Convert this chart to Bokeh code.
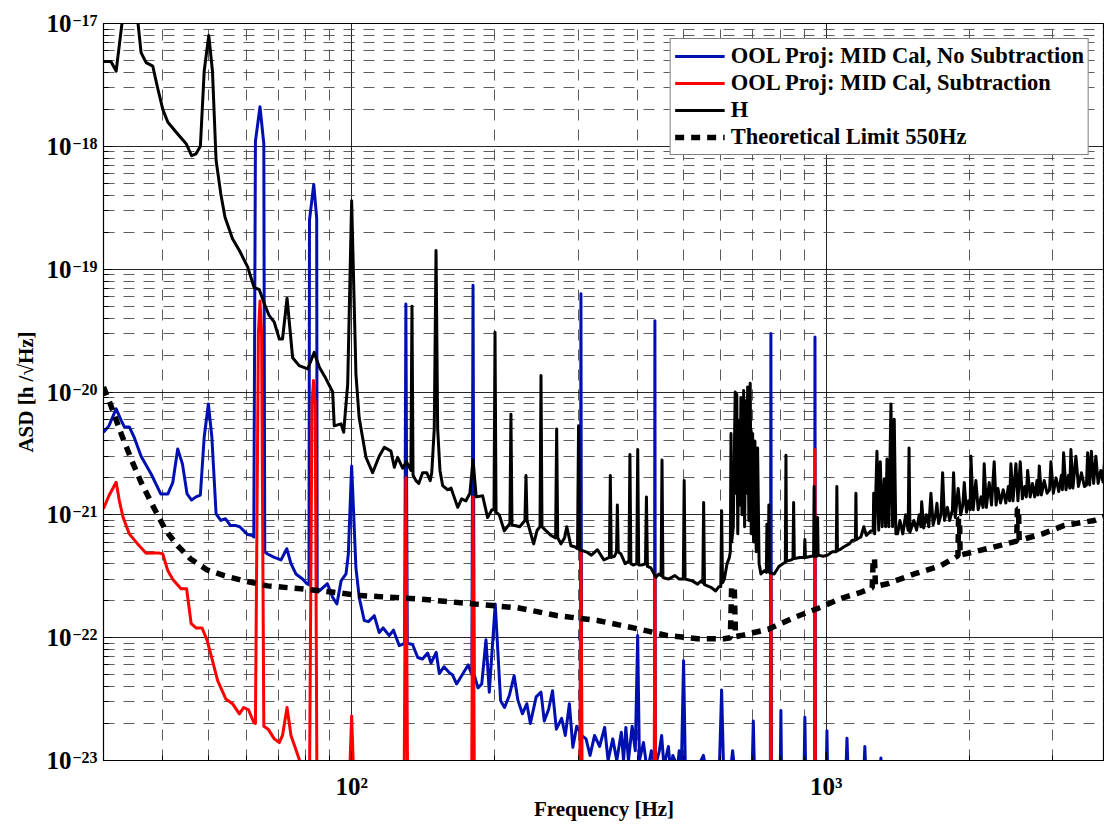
from bokeh.plotting import figure
from bokeh.models import Range1d, FixedTicker, CustomJSTickFormatter, LogAxis
from bokeh.embed import file_html
from bokeh.resources import INLINE

# ---------------- data ----------------
h_freq = [30, 31.1, 31.9, 33.0, 34.0, 35.3, 36.0, 36.9, 38.1, 39.0, 40.0, 41.0, 43.0, 44.8, 46.0, 47.0,
          48.0, 48.9, 50.0, 50.9, 51.8, 53.0, 54.1, 56.1, 58.0, 60.4, 62.3, 63.9, 65.5, 67.0, 68.7, 70.4,
          71.5, 73.1, 75.1, 77.5, 80.8, 83.4, 85.5, 88.3, 91.2, 91.9, 95.0, 96.2, 98.1, 100.0, 102.1, 103.7,
          107.2, 110.7, 114.3, 117.2, 121.0, 123.0, 125.0, 128.1, 130.5, 133.3, 134.0, 134.7, 136.6, 138.5,
          141.1, 144.0, 146.4, 147.5, 149.3, 150.6, 151.8, 153.5, 155.5, 159.3, 162.0, 167.3, 170.5, 174.1,
          177.5, 180.2, 183.0, 188.8, 193.4, 197.5, 199.5, 200.5, 201.5, 204.7, 209.7, 215.5, 216.6, 217.7,
          226.0, 231.8, 233.0, 234.2, 241.8, 246.0, 249.4, 250.6, 251.8, 256.0, 263.0, 269.0, 270.4, 271.8,
          276.0, 281.0, 284.0, 289.7, 295.0, 299.2, 300.7, 302.2, 312.0, 320.0, 329.6, 340.0, 349.2, 350.8,
          352.4, 358.0, 361.5, 363.0, 364.5, 369.4, 377.0, 384.0, 385.8, 387.6, 392.0, 398.8, 400.7, 402.6,
          408.0, 416.0, 418.0, 420.0, 427.0, 437.7, 444.0, 448.8, 450.8, 452.8, 465.0, 480.0, 490.0, 499.8,
          502.0, 504.2, 522.0, 535.8, 545.0, 549.4, 551.7, 554.0, 571.5, 585.0, 594.0, 599.5, 602.0, 604.5,
          610.0, 618.0, 625.0, 628.0, 630.0, 632.0, 637.0, 643.0, 645.5, 648.0, 651.0, 655.6, 658.0, 661.0,
          664.5, 669.9, 673.0, 677.3, 680.0, 683.0, 687.0, 691.5, 695.0, 699.7, 703.0, 707.5, 712.0, 716.8,
          722.0, 728.5, 740.0, 748.0, 750.0, 752.0, 755.0, 757.0, 759.0, 776.9, 795.0, 810.0, 820.0, 822.5,
          825.0, 845.0, 851.0, 853.7, 856.5, 880.0, 899.0, 901.6, 904.0, 930.0, 940.5, 943.0, 945.5, 956.5,
          959.0, 961.5, 985.0, 1007.0, 1030.0, 1050.0, 1053.0, 1056.0, 1068.0, 1090.0, 1118.0, 1135.0,
          1152.0, 1155.0, 1158.0, 1183.0, 1200.0, 1215.0, 1242.0, 1256.0, 1259.0, 1265.0, 1279.0, 1290.0,
          1300.0, 1312.0, 1325.0, 1334.0, 1343.0, 1355.0, 1369.0, 1380.0, 1391.0, 1402.0, 1414.0, 1430.0,
          1450.0, 1470.0, 1488.0, 1494.6, 1501.0, 1530.0, 1550.0, 1570.0, 1583.0, 1589.0, 1605.0, 1625.0,
          1645.0, 1662.0, 1680.0, 1700.0, 1711.0, 1725.0, 1745.0, 1759.0, 1775.0, 1800.0, 1820.0, 1845.0,
          1855.0, 1870.0, 1897.0, 1920.0, 1940.0, 1954.0, 1975.0, 1995.0, 2010.0, 2018.0, 2040.0, 2067.0,
          2090.0, 2120.0, 2140.0, 2152.0, 2175.0, 2205.0, 2230.0, 2259.0, 2280.0, 2300.0, 2330.0, 2360.0,
          2390.0, 2420.0, 2435.0, 2450.0, 2475.0, 2510.0, 2535.0, 2563.0, 2590.0, 2620.0, 2640.0, 2657.0,
          2690.0, 2720.0, 2750.0, 2780.0, 2795.0, 2812.0, 2840.0, 2880.0, 2920.0, 2955.0, 2975.0, 3010.0,
          3050.0, 3090.0, 3130.0, 3145.0, 3164.0, 3200.0, 3240.0, 3260.0, 3278.0, 3310.0, 3358.0, 3400.0,
          3450.0, 3500.0, 3535.0, 3555.0, 3590.0, 3620.0, 3660.0, 3700.0, 3740.0, 3790.0, 3830.0, 3885.0,
          3950.0]
h_asd = [4.9e-18, 4.9e-18, 4.1e-18, 1.2e-17, 2.5e-17, 1.2e-17, 5.8e-18, 4.8e-18, 4.5e-18, 3.0e-18, 2.0e-18,
         1.57e-18, 1.26e-18, 1.05e-18, 8.4e-19, 8.7e-19, 1.0e-18, 4.1e-18, 8.0e-18, 4.1e-18, 7.7e-19, 4.1e-19,
         2.65e-19, 1.77e-19, 1.42e-19, 1.04e-19, 7.1e-20, 6.8e-20, 5.2e-20, 4.2e-20, 3.7e-20, 2.7e-20, 2.7e-20,
         5.8e-20, 1.9e-20, 1.64e-20, 1.54e-20, 2.1e-20, 1.59e-20, 1.28e-20, 1.0e-20, 5.3e-21, 5.5e-21, 4.7e-21,
         1.16e-20, 3.6e-19, 1.4e-20, 6.2e-21, 2.94e-21, 2.2e-21, 3.0e-21, 3.55e-21, 3.3e-21, 2.44e-21, 2.94e-21,
         2.4e-21, 2.7e-21, 2.3e-21, 5.0e-20, 2.1e-21, 1.9e-21, 1.8e-21, 2.2e-21, 2.2e-21, 1.9e-21, 2.2e-21,
         5.0e-21, 1.42e-19, 5.0e-21, 2.3e-21, 1.73e-21, 1.6e-21, 1.65e-21, 1.15e-21, 1.35e-21, 1.3e-21,
         1.5e-21, 2.8e-21, 1.4e-21, 1.43e-21, 9.5e-22, 1.1e-21, 1.1e-21, 3.06e-20, 1.05e-21, 1.0e-21, 7.4e-22,
         8.5e-22, 6.6e-21, 8.3e-22, 8.0e-22, 9.0e-22, 2.09e-21, 9.0e-22, 5.8e-22, 7.5e-22, 8.0e-22, 1.36e-20,
         8.0e-22, 7.5e-22, 6.8e-22, 6.5e-22, 5.0e-21, 6.5e-22, 5.8e-22, 6.5e-22, 8.0e-22, 5.6e-22, 5.5e-22,
         5.3e-22, 5.3e-21, 5.2e-22, 5.0e-22, 4.7e-22, 5.2e-22, 4.3e-22, 4.5e-22, 2.09e-21, 4.5e-22, 4.6e-22,
         5.0e-22, 1.2e-21, 5.0e-22, 4.8e-22, 4.0e-22, 4.2e-22, 3.1e-21, 4.0e-22, 3.9e-22, 4.0e-22, 3.4e-21,
         3.9e-22, 3.9e-22, 4.0e-22, 1.4e-21, 3.8e-22, 3.7e-22, 3.1e-22, 3.3e-22, 3.2e-22, 2.8e-21, 3.1e-22,
         3.0e-22, 3.2e-22, 3.0e-22, 3.0e-22, 1.9e-21, 3.0e-22, 2.9e-22, 2.73e-22, 2.9e-22, 2.8e-22, 1.26e-21,
         2.7e-22, 2.57e-22, 2.4e-22, 2.6e-22, 2.6e-22, 1.08e-21, 2.8e-22, 3.0e-22, 4.0e-22, 4.5e-22, 5.0e-22,
         4.6e-21, 6.0e-22, 8.0e-22, 1.0e-20, 1.5e-21, 9.6e-21, 7.0e-22, 5.9e-21, 1.2e-21, 9.0e-21, 1.0e-21,
         1.03e-20, 8.0e-22, 8.5e-21, 1.5e-21, 1.1e-20, 9.0e-22, 1.18e-20, 7.0e-22, 4.6e-21, 6.0e-22, 4.0e-21,
         5.0e-22, 3.5e-21, 4.0e-22, 3.3e-22, 3.5e-22, 3.4e-22, 8.4e-22, 3.5e-22, 3.5e-22, 1.2e-21, 3.4e-22,
         3.3e-22, 3.8e-22, 4.0e-22, 4.1e-22, 3.05e-21, 4.2e-22, 4.3e-22, 4.4e-22, 1.26e-21, 4.4e-22, 4.5e-22,
         4.5e-22, 6.3e-22, 4.5e-22, 4.6e-22, 4.6e-22, 1.7e-21, 4.6e-22, 4.6e-22, 9.5e-22, 4.7e-22, 4.6e-22,
         4.7e-22, 5.0e-22, 5.0e-22, 1.7e-21, 5.1e-22, 5.2e-22, 5.5e-22, 5.8e-22, 6.2e-22, 6.2e-22, 1.5e-21,
         6.3e-22, 6.6e-22, 8.0e-22, 6.8e-22, 7.4e-22, 7.4e-22, 1.5e-21, 7.0e-22, 3.3e-21, 7.5e-22, 2.7e-21,
         8.0e-22, 1.95e-21, 8.0e-22, 2.85e-21, 8.0e-22, 8.0e-21, 8.0e-22, 6.0e-21, 7.0e-22, 7.0e-22, 9.0e-22,
         7.0e-22, 1.0e-21, 7.5e-22, 3.5e-21, 7.2e-22, 9.0e-22, 7.5e-22, 1.0e-21, 8.0e-22, 1.28e-21, 7.8e-22,
         1.0e-21, 8.0e-22, 1.5e-21, 8.3e-22, 1.0e-21, 1.24e-21, 8.5e-22, 1.0e-21, 2.2e-21, 9.0e-22, 1.15e-21,
         9.0e-22, 1.1e-21, 2.2e-21, 9.5e-22, 1.64e-21, 1.0e-21, 1.2e-21, 1.83e-21, 1.05e-21, 1.3e-21, 1.1e-21,
         3.0e-21, 1.1e-21, 1.9e-21, 1.1e-21, 1.4e-21, 1.15e-21, 2.6e-21, 1.15e-21, 1.83e-21, 1.2e-21, 2.7e-21,
         1.2e-21, 1.64e-21, 1.25e-21, 1.6e-21, 1.25e-21, 1.7e-21, 1.3e-21, 2.6e-21, 1.3e-21, 2.6e-21, 1.3e-21,
         2.7e-21, 1.35e-21, 1.7e-21, 1.4e-21, 2.3e-21, 1.4e-21, 1.8e-21, 1.4e-21, 1.9e-21, 1.45e-21, 2.5e-21,
         1.45e-21, 1.9e-21, 1.5e-21, 1.6e-21, 2.7e-21, 1.5e-21, 2.0e-21, 1.55e-21, 2.1e-21, 1.6e-21, 3.2e-21,
         1.6e-21, 2.1e-21, 1.65e-21, 3.4e-21, 1.65e-21, 3.0e-21, 1.7e-21, 2.2e-21, 1.7e-21, 1.75e-21, 3.2e-21,
         1.75e-21, 3.3e-21, 1.8e-21, 3.0e-21, 1.8e-21, 2.3e-21, 1.85e-21, 3.9e-21, 2.0e-21]

nosub_freq = [30, 30.8, 31.9, 32.7, 33.2, 34.0, 34.8, 36.0, 37.8, 39.6, 41.0, 42.0, 43.0, 44.0, 45.0, 46.0,
              47.0, 48.0, 48.9, 49.9, 50.75, 51.8, 53.0, 54.2, 55.5, 56.8, 58.1, 60.4, 61.8, 62.2, 62.7, 64.1,
              65.3, 65.6, 66.5, 68.7, 71.0, 73.0, 74.5, 76.3, 78.8, 80.5, 81.3, 81.5, 83.2, 84.4, 84.6, 85.5,
              88.9, 91.2, 93.1, 95.0, 97.3, 98.4, 100.0, 102.1, 103.8, 106.3, 108.5, 111.6, 114.3, 116.5, 120.0,
              122.5, 126.0, 129.3, 130.1, 131.0, 134.4, 137.8, 141.0, 144.6, 147.0, 150.7, 153.0, 156.5, 160.5,
              163.0, 166.4, 170.0, 176.0, 179.2, 180.2, 181.2, 184.6, 188.0, 191.9, 195.0, 200.7, 206.0, 210.0,
              215.0, 220.0, 224.0, 229.0, 234.0, 238.0, 244.8, 250.6, 254.6, 260.0, 265.0, 270.0, 277.0, 282.0,
              287.6, 292.5, 298.0, 303.2, 304.2, 305.2, 311.8, 318.0, 325.0, 333.0, 341.3, 347.0, 355.0, 362.0,
              370.0, 374.0, 378.3, 383.0, 390.0, 396.0, 400.6, 404.0, 412.0, 420.0, 428.0, 434.5, 435.5, 436.5,
              445.0, 450.0, 455.0, 465.0, 470.0, 475.0, 480.0, 485.0, 490.0, 495.0, 500.5, 505.0, 530.0, 551.0,
              560.0, 595.0, 602.0, 608.0, 630.0, 635.0, 640.0, 698.0, 702.0, 706.0, 762.5, 764.6, 766.7, 800.0,
              802.6, 805.0, 898.0, 901.6, 905.0, 944.5, 946.9, 949.3, 1000.0, 1003.5, 1007.0, 1100.0, 1106.0,
              1112.0, 1200.0, 1206.0, 1212.0, 1300.0, 1304.0, 1308.0, 3950.0]
nosub_asd = [4.7e-21, 5.3e-21, 7.3e-21, 5.85e-21, 5.2e-21, 5.2e-21, 4.3e-21, 3.0e-21, 2.15e-21, 1.48e-21,
             1.48e-21, 1.84e-21, 3.44e-21, 2.6e-21, 1.48e-21, 1.32e-21, 1.4e-21, 1.45e-21, 4.3e-21, 8.0e-21,
             4.3e-21, 1.02e-21, 9.0e-22, 9.3e-22, 8.2e-22, 8.2e-22, 8.0e-22, 6.9e-22, 6.8e-22, 6.6e-22, 1.1e-18,
             2.1e-18, 1.05e-18, 5.0e-22, 4.8e-22, 4.5e-22, 4.3e-22, 5.3e-22, 4.0e-22, 3.3e-22, 3.0e-22, 2.75e-22,
             2.7e-22, 2.5e-19, 4.9e-19, 2.6e-19, 2.5e-22, 2.4e-22, 2.75e-22, 2.13e-22, 1.88e-22, 2.9e-22,
             3.3e-22, 4.8e-22, 2.5e-21, 3.7e-22, 2.1e-22, 1.38e-22, 1.35e-22, 1.51e-22, 1.1e-22, 1.2e-22,
             1.04e-22, 1.15e-22, 8.6e-23, 9.0e-23, 5.2e-20, 9.0e-23, 8.8e-23, 6.9e-23, 6.7e-23, 7.5e-23, 6.2e-23,
             7.6e-23, 5.1e-23, 5.8e-23, 5.2e-23, 5.0e-23, 4.2e-23, 4.8e-23, 6.0e-23, 5.0e-23, 7.4e-20, 5.0e-23,
             3.9e-23, 4.2e-23, 9.6e-23, 3.6e-23, 1.88e-22, 3.07e-23, 2.7e-23, 3.4e-23, 4.9e-23, 3.1e-23, 2.4e-23,
             2.9e-23, 2.0e-23, 3.3e-23, 3.6e-23, 2.1e-23, 2.6e-23, 3.7e-23, 1.8e-23, 2.2e-23, 1.6e-23, 2.9e-23,
             1.28e-23, 1.9e-23, 1.7e-23, 6.3e-20, 1.6e-23, 1.5e-23, 1.1e-23, 1.6e-23, 1.3e-23, 1.86e-23, 1.0e-23,
             1.5e-23, 1.0e-23, 1.7e-23, 1.0e-23, 1.86e-23, 1.0e-23, 1.9e-23, 1.2e-23, 1.04e-22, 1.0e-23, 1.4e-23,
             8e-24, 1.2e-23, 9e-24, 3.8e-20, 9e-24, 1.2e-23, 1.6e-23, 9e-24, 1.3e-23, 8e-24, 1.1e-23, 1.0e-23,
             8e-24, 1.2e-23, 8e-24, 6.5e-23, 8e-24, 8e-24, 1.1e-23, 8e-24, 8e-24, 3.75e-23, 8e-24, 9e-24, 1.2e-23,
             9e-24, 8e-24, 2.1e-23, 8e-24, 8e-24, 3.0e-20, 8e-24, 8e-24, 2.55e-23, 8e-24, 8e-24, 2.25e-23, 8e-24,
             8e-24, 2.8e-20, 8e-24, 8e-24, 1.75e-23, 8e-24, 8e-24, 1.52e-23, 8e-24, 8e-24, 1.3e-23, 8e-24, 8e-24,
             1.05e-23, 8e-24, 8e-24]

sub_freq = [30, 30.8, 31.9, 32.4, 33.0, 34.0, 35.4, 36.9, 38.4, 39.2, 40.0, 41.0, 42.0, 43.7, 44.9, 45.9,
            47.0, 48.4, 49.6, 50.9, 52.2, 54.3, 56.1, 58.0, 59.2, 60.6, 62.2, 62.7, 63.6, 64.1, 64.6, 65.3,
            66.7, 68.7, 70.4, 71.5, 73.1, 74.5, 75.9, 77.5, 79.0, 81.5, 82.5, 83.1, 83.8, 84.5, 98.8, 100.0,
            101.2, 129.0, 130.1, 131.2, 179.0, 180.2, 181.4, 302.5, 304.2, 306.0, 434.0, 435.5, 437.0, 763.0,
            764.6, 766.2, 945.0, 946.9, 948.8, 3950.0]
sub_asd = [1.12e-21, 1.43e-21, 1.84e-21, 1.3e-21, 9.5e-22, 7.0e-22, 5.8e-22, 4.86e-22, 4.9e-22, 4.9e-22, 4.8e-22,
           3.5e-22, 2.97e-22, 2.5e-22, 2.5e-22, 1.3e-22, 1.2e-22, 1.2e-22, 9.5e-23, 6.5e-23, 4.47e-23, 3.17e-23,
           2.9e-23, 2.4e-23, 2.7e-23, 2.6e-23, 2.04e-23, 2.0e-23, 3.0e-20, 5.5e-20, 3.0e-20, 1.9e-23, 1.8e-23,
           1.5e-23, 1.4e-23, 1.6e-23, 2.7e-23, 1.6e-23, 1.3e-23, 1.03e-23, 6e-24, 6e-24, 8e-21, 1.24e-20, 8e-21,
           6e-24, 6e-24, 2.3e-23, 6e-24, 6e-24, 2.0e-21, 6e-24, 6e-24, 1.4e-21, 6e-24, 6e-24, 5.0e-22, 6e-24,
           6e-24, 3.3e-22, 6e-24, 6e-24, 3.2e-22, 6e-24, 6e-24, 3.4e-21, 6e-24, 6e-24]

limit_freq = [30, 31.1, 32.7, 34.3, 36.0, 38.4, 40.6, 43.0, 45.8, 49.6, 53.9, 59.3, 66.5, 78.2, 91.9, 104.6,
              137.8, 181.4, 223.7, 271.8, 329.6, 400.6, 463.0, 535.8, 609.5, 628.0, 632.0, 640.0, 644.0, 661.0,
              755.0, 856.0, 975.0, 1068.0, 1183.0, 1250.0, 1256.0, 1264.0, 1270.0, 1347.0, 1532.0, 1745.0,
              1895.0, 1900.0, 1910.0, 1915.0, 2224.0, 2520.0, 2528.0, 2542.0, 2550.0, 2855.0, 3174.0, 3673.0,
              3950.0]
limit_asd = [1.1e-20, 7.75e-21, 4.56e-21, 2.85e-21, 1.84e-21, 1.12e-21, 7.45e-22, 5.6e-22, 4.37e-22, 3.56e-22,
             3.2e-22, 2.9e-22, 2.64e-22, 2.5e-22, 2.34e-22, 2.2e-22, 2.07e-22, 1.88e-22, 1.75e-22, 1.51e-22,
             1.38e-22, 1.18e-22, 1.04e-22, 9.8e-23, 9.8e-23, 1.0e-22, 2.6e-22, 2.6e-22, 1.02e-22, 1.04e-22,
             1.17e-22, 1.46e-22, 1.77e-22, 2.07e-22, 2.34e-22, 2.55e-22, 4.4e-22, 4.4e-22, 2.62e-22, 2.75e-22,
             3.3e-22, 3.86e-22, 4.65e-22, 9.3e-22, 9.3e-22, 4.7e-22, 5.4e-22, 6.1e-22, 1.12e-21, 1.12e-21,
             6.2e-22, 7.0e-22, 8.2e-22, 9.0e-22, 1.0e-21]

series_labels = ["OOL Proj: MID Cal, No Subtraction", "OOL Proj: MID Cal, Subtraction", "H",
                 "Theoretical Limit 550Hz"]

x_major_ticks = [100, 1000]
x_minor_ticks = [40, 50, 60, 70, 80, 90, 200, 300, 400, 500, 600, 700, 800, 900, 2000, 3000]
y_decade_exponents = [-23, -22, -21, -20, -19, -18, -17]

X_MIN, X_MAX = 30, 3858
Y_MIN, Y_MAX = 1e-23, 1e-17

# ---------------- figure ----------------
p = figure(width=1104, height=828, x_axis_type="log", y_axis_type="log",
           x_range=Range1d(X_MIN, X_MAX), y_range=Range1d(Y_MIN, Y_MAX),
           output_backend="svg", toolbar_location=None,
           min_border_left=103, min_border_right=0, min_border_top=23, min_border_bottom=68)
p.background_fill_color = "white"
p.border_fill_color = "white"
p.outline_line_color = "black"
p.outline_line_width = 1.2

y_major = [10.0 ** e for e in y_decade_exponents]
y_minor = [k * 10.0 ** e for e in y_decade_exponents[:-1] for k in range(2, 10)]
x_ticker = FixedTicker(ticks=x_major_ticks, minor_ticks=x_minor_ticks)
y_ticker = FixedTicker(ticks=y_major, minor_ticks=y_minor)

SERIF = "Liberation Serif"

# x axis: "10²", "10³"
x_fmt = CustomJSTickFormatter(code="""
const sup = {"0": "\u2070", "1": "\u00b9", "2": "\u00b2", "3": "\u00b3", "4": "\u2074"};
const e = Math.round(Math.log10(tick));
return "10" + String(e).split("").map((c) => sup[c]).join("");
""")
# y axis: exponent (inner axis, raised) and the "10" base (outer axis)
y_exp_fmt = CustomJSTickFormatter(code="return '\u2212' + String(-Math.round(Math.log10(tick))) + '\\n ';")
y_ten_fmt = CustomJSTickFormatter(code="return '10';")

xa = p.xaxis[0]
ya = p.yaxis[0]
xa.ticker = x_ticker
ya.ticker = y_ticker
xa.formatter = x_fmt
ya.formatter = y_exp_fmt

for ax in (xa, ya):
    ax.major_label_text_font = SERIF
    ax.major_label_text_font_style = "bold"
    ax.major_label_text_color = "black"
    ax.major_tick_in = 9
    ax.major_tick_out = 0
    ax.minor_tick_in = 5
    ax.minor_tick_out = 0
    ax.axis_line_color = "black"
    ax.major_tick_line_color = "black"
    ax.minor_tick_line_color = "black"
    ax.axis_label_text_font = SERIF
    ax.axis_label_text_font_style = "bold"
    ax.axis_label_text_font_size = "21px"
    ax.axis_label_text_color = "black"

xa.major_label_text_font_size = "25px"
xa.major_label_standoff = 12
xa.axis_label = "Frequency [Hz]"
xa.axis_label_standoff = -6

ya.major_label_text_font_size = "16px"
ya.major_label_text_baseline = "bottom"
ya.major_label_text_line_height = 0.35
ya.major_label_standoff = 6

ya_ten = LogAxis(ticker=y_ticker, formatter=y_ten_fmt)
ya_ten.axis_line_color = None
ya_ten.major_tick_line_color = None
ya_ten.minor_tick_line_color = None
ya_ten.major_tick_in = 0
ya_ten.major_tick_out = 0
ya_ten.minor_tick_in = 0
ya_ten.minor_tick_out = 0
ya_ten.major_label_standoff = -2
ya_ten.major_label_text_font = SERIF
ya_ten.major_label_text_font_style = "bold"
ya_ten.major_label_text_font_size = "25px"
ya_ten.major_label_text_color = "black"
ya_ten.axis_label = "ASD [h /\u221aHz]"
ya_ten.axis_label_text_font = SERIF
ya_ten.axis_label_text_font_style = "bold"
ya_ten.axis_label_text_font_size = "21px"
ya_ten.axis_label_text_color = "black"
ya_ten.axis_label_standoff = 6
p.add_layout(ya_ten, "left")

for g in (p.xgrid, p.ygrid):
    g.grid_line_color = "black"
    g.grid_line_alpha = 0.85
    g.grid_line_width = 1
    g.minor_grid_line_color = "#4a4a4a"
    g.minor_grid_line_alpha = 0.9
    g.minor_grid_line_width = 1
    g.minor_grid_line_dash = "11 9"

# ---------------- series ----------------
p.line(nosub_freq, nosub_asd, line_color="#0010B0", line_width=3, line_join="round",
       legend_label=series_labels[0])
p.line(sub_freq, sub_asd, line_color="#FF0000", line_width=3, line_join="round",
       legend_label=series_labels[1])
p.line(h_freq, h_asd, line_color="black", line_width=3, line_join="round",
       legend_label=series_labels[2])
p.line(limit_freq, limit_asd, line_color="black", line_width=5.5, line_dash="9 7",
       legend_label=series_labels[3])

# ---------------- legend ----------------
lg = p.legend[0]
lg.location = "top_right"
lg.label_text_font = SERIF
lg.label_text_font_style = "bold"
lg.label_text_font_size = "22.5px"
lg.label_text_color = "black"
lg.glyph_width = 50
lg.glyph_height = 22
lg.label_height = 22
lg.spacing = 1
lg.padding = 4
lg.margin = 15
lg.label_standoff = 6
lg.border_line_color = "black"
lg.border_line_width = 1
lg.background_fill_color = "white"
lg.background_fill_alpha = 1.0

open("out.html", "w").write(file_html(p, INLINE, "ASD"))
